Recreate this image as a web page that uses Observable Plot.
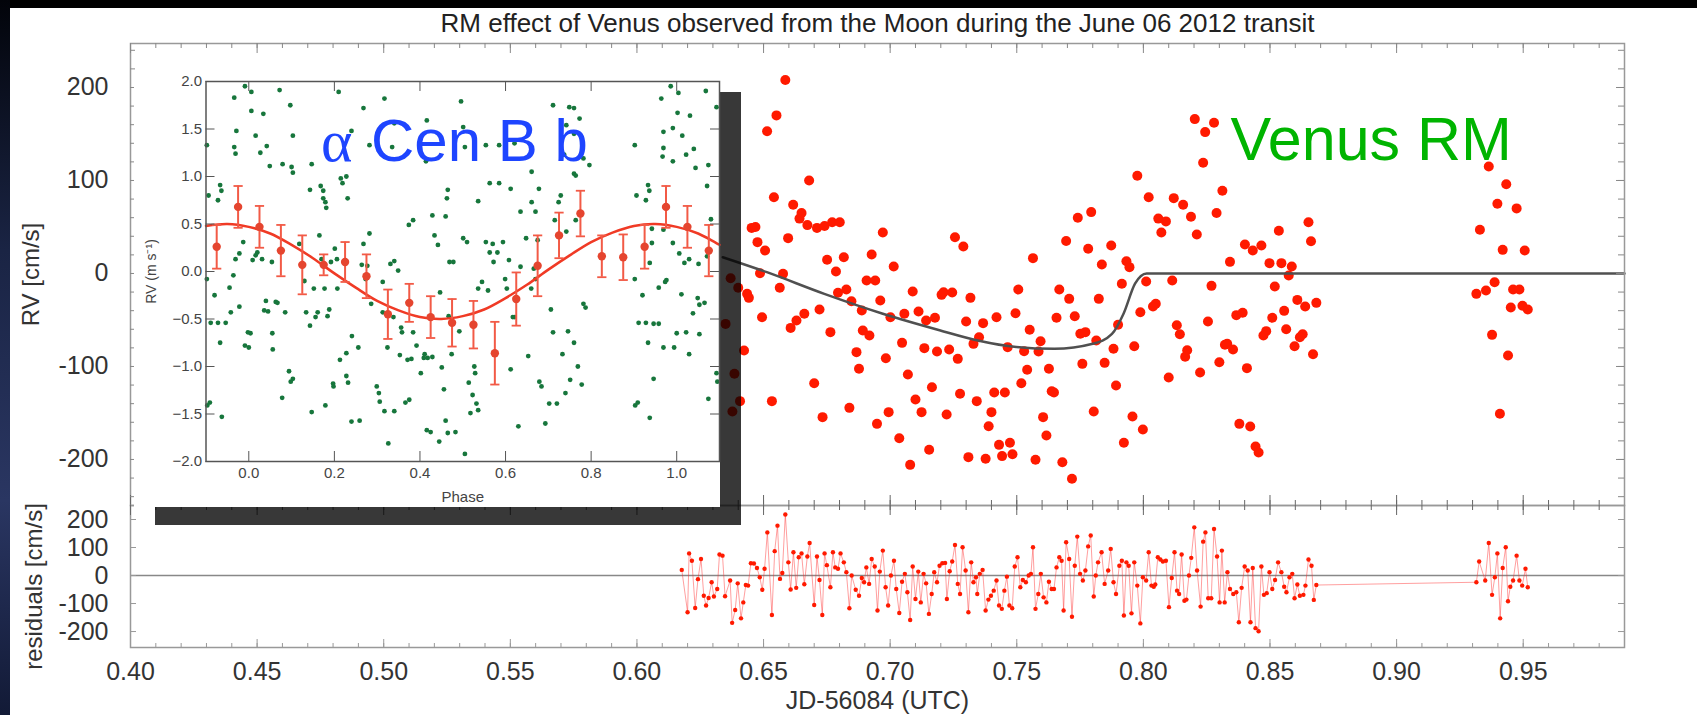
<!DOCTYPE html>
<html><head><meta charset="utf-8">
<script src="https://cdn.jsdelivr.net/npm/d3@7"></script>
<script src="https://cdn.jsdelivr.net/npm/@observablehq/plot@0.6"></script>
<style>
html,body{margin:0;padding:0;background:#000;width:1697px;height:715px;overflow:hidden;}
#page{position:relative;width:1697px;height:715px;}
#strip{position:absolute;left:0;top:0;width:10px;height:715px;background:linear-gradient(#02040a,#1a2444 35%,#2a3662 70%,#121a36);}
#white{position:absolute;left:10px;top:8px;width:1687px;height:707px;background:#fff;}
.abs{position:absolute;}
#shadow{position:absolute;left:155px;top:92px;width:586px;height:433px;background:rgba(0,0,0,0.78);}
svg{overflow:visible;}
</style></head>
<body><div id="page"><div id="strip"></div><div id="white"></div>
<div id="top" class="abs" style="left:0;top:0"></div>
<div id="bottom" class="abs" style="left:0;top:505px"></div>
<div id="shadow"></div>
<div id="inset" class="abs" style="left:134px;top:74px"></div>
</div>
<script>
// ---------------- DATA ----------------
const titleText = "RM effect of Venus observed from the Moon during the June 06 2012 transit";
const xTickLabels = [0.40,0.45,0.50,0.55,0.60,0.65,0.70,0.75,0.80,0.85,0.90,0.95];
const rvTickLabels = [-200,-100,0,100,200];
const resTickLabels = [-200,-100,0,100,200];
const insetXTickLabels = [0.0,0.2,0.4,0.6,0.8,1.0];
const insetYTickLabels = [-2.0,-1.5,-1.0,-0.5,0.0,0.5,1.0,1.5,2.0];

// RV measurements [JD-56084, cm/s]
const rvPoints = [
[0.6453,49],[0.6468,50],[0.6514,153],[0.6541,82],[0.6551,170],[0.6586,208],[0.6597,38],[0.6617,74],[0.6642,59],[0.6650,65],[0.6673,52],[0.6680,100],[0.6711,49],[0.6741,51],[0.6771,55],[0.6801,55],[0.6971,44],[0.7256,39],[0.7695,35],[0.7741,60],[0.7794,66],[0.7976,105],[0.8021,82],[0.8059,59],[0.8089,56],[0.8071,44],[0.8120,81],[0.8157,74],[0.8188,61],[0.8211,42],[0.8203,166],[0.8244,152],[0.8279,162],[0.8236,119],[0.8312,89],[0.8289,65],
[0.8535,46],[0.8652,55],[0.9364,115],[0.9433,96],[0.9398,75],[0.9474,70],[0.9329,47],
[0.6476,33.7],[0.6506,24.7],[0.7289,29.0],[0.7782,26.5],[0.7873,30.1],
[0.6751,14.7],[0.6786,2.1],[0.6817,17.5],[0.6927,20.4],[0.7014,7.5],[0.7564,16.5],[0.7836,9.6],[0.7933,13.2],[0.7945,6.8],
[0.6486,0.3],[0.6577,-0.4],[0.6907,-7.6],[0.6941,-7.6],[0.8011,-8.6],
[0.6564,-15.4],[0.6794,-20.8],[0.6827,-17.2],[0.7089,-19.4],[0.7203,-23],[0.7211,-20.1],[0.7245,-20.5],[0.7317,-26.2],[0.7506,-17.2],[0.7668,-17.2],[0.7707,-27.3],[0.7824,-27.3],[0.7915,-11.1],
[0.6435,-21.9],[0.6442,-26.2],[0.6961,-29.1],[0.6847,-29.8],
[0.6494,-47],[0.6721,-38.7],[0.6888,-39.8],[0.7001,-47],[0.7056,-43.4],[0.7112,-40.9],[0.7142,-50.6],[0.7177,-47.7],[0.7300,-51.6],[0.7367,-53.4],[0.7420,-47],[0.7495,-42.7],[0.7657,-47.7],[0.7729,-45.9],[0.7988,-41.6],
[0.6607,-58.5],[0.6630,-50.6],[0.6661,-43.4],[0.6764,-63.1],[0.6892,-61.3],[0.6918,-66.7],[0.7351,-68.5],[0.7329,-75.7],[0.7551,-60.6],[0.7594,-72.8],[0.7751,-64.9],[0.7771,-63.1],[0.7814,-72.1],[0.7900,-55.2],
[0.6423,-82.8],[0.6867,-84.6],[0.7047,-74.6],[0.7135,-80.3],[0.7185,-83.9],[0.7233,-81.8],[0.7267,-91.8],[0.7464,-79.2],[0.7529,-83.6],[0.7586,-83.9],[0.7759,-97.2],[0.7847,-96.1],[0.7882,-81.0],[0.7964,-78.2],
[0.6700,-118],[0.6877,-102.5],[0.6983,-91.1],[0.7070,-108.6],[0.7165,-122.3],[0.7276,-129.4],[0.7342,-137.3],[0.7411,-128],[0.7453,-128],[0.7518,-118],[0.7541,-103.6],[0.7627,-102.5],[0.7638,-126.6],[0.7647,-128],[0.7804,-148.4],[0.7892,-120.5],
[0.6533,-137.3],[0.6839,-144.5],[0.6733,-154.5],[0.6994,-149.1],[0.7100,-135.5],[0.7124,-149.1],[0.7223,-151.6],[0.7400,-149.1],[0.7604,-154.5],[0.7957,-153.8],[0.7998,-167.8],
[0.6948,-161.7],[0.7036,-177.1],[0.7389,-164.2],[0.7430,-184.3],[0.7473,-182.1],[0.7617,-174.2],[0.7923,-182.1],
[0.7154,-189.6],[0.7079,-205.8],[0.7309,-197.5],[0.7377,-199.3],[0.7442,-196.4],[0.7483,-194.3],[0.7574,-200.4],[0.7680,-202.9],[0.7718,-220.8],
[0.6370,-5.1],[0.6400,-15.4],[0.6350,-54.2],[0.6385,-107.9],[0.6407,-137.3],[0.6377,-148.4],
[0.8662,34.7],[0.8401,31.1],[0.8432,24.7],[0.8466,30.1],[0.9419,25.4],[0.9506,24.7],[0.8342,12.5],[0.8498,11.1],[0.8545,11.1],[0.8586,7.5],[0.8574,-2.2],[0.8114,-7.6],[0.8269,-13.3],[0.8519,-14],[0.9315,-21.9],[0.9353,-18.3],[0.9387,-9.4],[0.9460,-17.2],[0.9485,-17.2],[0.8049,-32.6],[0.8038,-35.5],[0.8608,-28.4],[0.8639,-35.5],[0.8683,-31.6],[0.8556,-40.2],[0.8367,-44.8],[0.8392,-42.3],[0.8509,-47.7],[0.9451,-36.6],[0.9497,-34.8],[0.9518,-38.7],[0.8132,-55.6],[0.8144,-65.3],[0.8255,-51.6],[0.8485,-62],[0.8474,-66.7],[0.8564,-59.9],[0.8629,-65.3],[0.8618,-68.5],[0.8322,-76.7],[0.8331,-75.7],[0.8354,-81.8],[0.8173,-82.5],[0.8165,-89.6],[0.8597,-78.2],[0.8670,-86.8],[0.9377,-66],[0.8300,-95.4],[0.8409,-101.8],[0.8100,-111.9],[0.8224,-106.5],[0.9440,-88.2],[0.8379,-161.7],[0.8422,-164.5],[0.8443,-186],[0.8455,-192.5],[0.9408,-150.9]
];

// RM model curve [JD-56084, cm/s]
const modelCurve = [
[0.6339,17.5],[0.6513,1.4],[0.6740,-21.9],[0.6968,-43],[0.7195,-61],[0.7346,-72],[0.7498,-79],[0.7649,-81],[0.7800,-75.6],[0.7876,-65],[0.7922,-43],[0.7967,-11],[0.8013,0],[0.8500,0],[0.9000,0],[0.9900,0]
];

// residuals [JD-56084, cm/s]
const residuals = [
[0.6177,20],[0.6200,-131],[0.6206,79],[0.6217,53],[0.6230,-116],[0.6241,-13],[0.6253,59],[0.6264,-72],[0.6273,-107],[0.6283,-80],[0.6295,-24],[0.6304,-75],[0.6317,-48],[0.6326,75],[0.6338,71],[0.6348,-74],[0.6368,-18],[0.6376,-169],[0.6388,-123],[0.6398,-28],[0.6411,-153],[0.6420,-96],[0.6430,-34],[0.6439,-36],[0.6450,44],[0.6462,43],[0.6474,27],[0.6485,-6],[0.6495,-51],[0.6504,24],[0.6515,154],[0.6533,-141],[0.6544,87],[0.6555,178],[0.6565,-12],[0.6574,9],[0.6586,218],[0.6598,47],[0.6607,-50],[0.6618,83],[0.6629,-44],[0.6639,65],[0.6650,79],[0.6661,-31],[0.6673,68],[0.6682,116],[0.6700,-105],[0.6711,68],[0.6721,-16],[0.6732,-141],[0.6741,79],[0.6750,37],[0.6764,-42],[0.6774,83],[0.6783,29],[0.6794,24],[0.6804,79],[0.6817,47],[0.6827,12],[0.6839,-117],[0.6848,0],[0.6864,-51],[0.6877,-72],[0.6888,-9],[0.6897,-24],[0.6906,29],[0.6917,-30],[0.6927,59],[0.6939,32],[0.6950,-125],[0.6959,14],[0.6971,89],[0.6982,-42],[0.6992,-107],[0.7003,0],[0.7015,53],[0.7024,-48],[0.7036,-134],[0.7047,-22],[0.7058,6],[0.7068,-60],[0.7079,-159],[0.7089,32],[0.7100,-84],[0.7111,14],[0.7121,-96],[0.7132,6],[0.7142,-28],[0.7153,-137],[0.7164,-66],[0.7174,12],[0.7185,-24],[0.7195,35],[0.7206,44],[0.7217,45],[0.7224,-84],[0.7235,15],[0.7245,50],[0.7256,109],[0.7267,-30],[0.7276,-66],[0.7286,101],[0.7298,18],[0.7309,-131],[0.7320,47],[0.7329,-24],[0.7339,-6],[0.7344,-66],[0.7354,6],[0.7365,20],[0.7377,-125],[0.7388,-86],[0.7398,-72],[0.7409,-54],[0.7420,-18],[0.7430,-107],[0.7441,-119],[0.7451,-54],[0.7461,-4],[0.7471,-107],[0.7482,-117],[0.7492,32],[0.7503,65],[0.7514,-42],[0.7524,-16],[0.7536,-24],[0.7547,0],[0.7556,6],[0.7564,101],[0.7574,-119],[0.7585,-66],[0.7595,6],[0.7606,-78],[0.7617,-96],[0.7627,-22],[0.7638,-48],[0.7647,-48],[0.7657,29],[0.7668,65],[0.7677,53],[0.7685,-125],[0.7695,119],[0.7707,59],[0.7718,-147],[0.7729,35],[0.7739,139],[0.7750,6],[0.7761,-18],[0.7771,18],[0.7782,104],[0.7792,143],[0.7804,-75],[0.7812,0],[0.7821,47],[0.7835,83],[0.7847,-30],[0.7861,18],[0.7871,95],[0.7882,-24],[0.7892,-66],[0.7905,35],[0.7915,53],[0.7923,-143],[0.7933,47],[0.7942,35],[0.7953,-135],[0.7964,47],[0.7976,-36],[0.7988,-171],[0.7998,-6],[0.8011,-18],[0.8021,83],[0.8032,-36],[0.8041,-40],[0.8047,-32],[0.8057,65],[0.8067,57],[0.8077,50],[0.8089,53],[0.8101,-113],[0.8112,-9],[0.8123,83],[0.8133,-54],[0.8141,-66],[0.8151,75],[0.8162,-90],[0.8170,-86],[0.8180,0],[0.8189,63],[0.8201,172],[0.8212,18],[0.8226,-111],[0.8236,121],[0.8245,154],[0.8256,-81],[0.8268,-81],[0.8279,166],[0.8291,68],[0.8301,-96],[0.8310,89],[0.8321,-96],[0.8332,12],[0.8342,-48],[0.8355,-66],[0.8367,-60],[0.8377,-167],[0.8388,-44],[0.8400,32],[0.8412,18],[0.8423,-167],[0.8432,27],
[0.8443,-188],[0.8455,-199],[0.8466,32],[0.8476,-69],[0.8487,-63],[0.8498,12],[0.8509,-48],[0.8520,-16],[0.8532,47],[0.8545,12],[0.8556,-40],[0.8565,-60],[0.8577,-6],[0.8588,6],[0.8597,-81],[0.8608,-32],[0.8618,-72],[0.8632,-69],[0.8640,-36],[0.8652,57],[0.8664,35],[0.8673,-87],[0.8683,-34],
[0.9315,-24],[0.9326,50],[0.9350,-18],[0.9364,116],[0.9377,-69],[0.9388,-6],[0.9398,79],[0.9409,-153],[0.9419,27],[0.9431,101],[0.9440,-92],[0.9449,-40],[0.9460,-18],[0.9474,71],[0.9485,-18],[0.9496,-36],[0.9509,24],[0.9518,-42]
];

// alpha Cen B b inset: binned RV [phase, m/s, error]
const phaseBins = [
[-0.075,0.26,0.23],[-0.025,0.68,0.22],[0.025,0.47,0.22],[0.075,0.22,0.27],[0.125,0.07,0.31],[0.175,0.07,0.11],[0.225,0.10,0.21],[0.275,-0.05,0.23],[0.325,-0.45,0.26],[0.375,-0.33,0.20],[0.425,-0.48,0.22],[0.475,-0.54,0.25],[0.525,-0.56,0.25],[0.575,-0.86,0.33],[0.625,-0.29,0.28],[0.675,0.06,0.32],[0.725,0.38,0.24],[0.775,0.61,0.24],[0.825,0.16,0.22],[0.875,0.15,0.24],[0.925,0.26,0.23],[0.975,0.68,0.22],[1.025,0.47,0.22],[1.075,0.22,0.27]
];
// fitted orbit curve [phase, m/s]
const sineCurve = [
[-0.10,0.48],[-0.05,0.50],[0.00,0.47],[0.05,0.40],[0.10,0.28],[0.15,0.14],[0.20,-0.02],[0.25,-0.17],[0.30,-0.31],[0.35,-0.41],[0.40,-0.48],[0.45,-0.50],[0.50,-0.47],[0.55,-0.40],[0.60,-0.28],[0.65,-0.14],[0.70,0.02],[0.75,0.17],[0.80,0.31],[0.85,0.41],[0.90,0.48],[0.95,0.50],[1.00,0.47],[1.05,0.40],[1.10,0.28]
];
// individual measurements [phase, m/s]
const greenPoints = [
[-0.098,-0.08],[-0.097,-1.41],[-0.091,-1.38],[-0.089,-0.54],[-0.080,-0.25],[-0.072,-0.54],[-0.067,-0.75],[-0.063,-1.53],[-0.054,-0.54],[-0.045,-0.17],[-0.042,-0.43],[-0.036,-0.04],[-0.031,0.13],[-0.022,0.19],[-0.022,-0.37],[-0.013,0.31],[-0.009,-0.78],[-0.002,-0.64],[0.000,-0.80],[0.004,-0.65],[0.009,0.12],[0.016,0.17],[0.020,0.20],[0.031,0.13],[0.036,-0.41],[0.040,-0.31],[0.045,-0.42],[0.054,0.10],[0.055,-0.65],[0.056,-0.82],[0.063,-0.32],[0.067,-0.33],[0.078,-1.33],[0.085,-0.43],[0.094,-1.05],[0.098,-1.16],[0.103,-1.13],[0.118,0.29],[0.130,-0.10],[0.134,-0.43],[0.143,-0.57],[0.147,-1.48],[0.152,-0.18],[0.156,-0.48],[0.161,-0.43],[0.165,0.38],[0.170,0.13],[0.177,-0.18],[0.179,-1.41],[0.184,-0.47],[0.188,-0.40],[0.192,0.10],[0.197,-1.18],[0.198,-1.21],[0.201,0.24],[0.206,0.13],[0.207,-0.18],[0.213,-0.93],[0.228,-1.10],[0.228,-0.86],[0.232,-1.17],[0.240,-1.58],[0.241,-0.68],[0.256,-0.80],[0.259,-1.57],[0.264,0.07],[0.268,0.29],[0.273,-0.08],[0.277,0.06],[0.282,0.40],[0.286,-0.34],[0.299,-1.21],[0.304,-1.28],[0.306,-1.37],[0.313,-0.11],[0.313,-0.43],[0.317,-1.47],[0.324,-0.80],[0.326,-1.81],[0.331,0.08],[0.338,-0.48],[0.340,0.11],[0.340,-1.47],[0.349,0.01],[0.353,-0.88],[0.356,-0.59],[0.358,-0.64],[0.366,-1.38],[0.371,-0.93],[0.375,-1.35],[0.380,-0.92],[0.384,-0.64],[0.392,-0.78],[0.402,-1.07],[0.409,-0.91],[0.411,-0.87],[0.416,-1.67],[0.418,-0.91],[0.425,-1.69],[0.429,-0.90],[0.434,0.38],[0.442,0.28],[0.445,-1.79],[0.447,-0.22],[0.451,-1.01],[0.456,-1.24],[0.460,-1.57],[0.465,-1.70],[0.467,-0.47],[0.469,0.10],[0.474,-0.87],[0.478,0.10],[0.483,-1.69],[0.492,-0.63],[0.501,0.35],[0.505,-1.92],[0.510,0.31],[0.514,-1.17],[0.518,-1.49],[0.523,-1.30],[0.527,-1.00],[0.529,-1.07],[0.532,-1.39],[0.536,-1.46],[0.536,-0.18],[0.545,-0.11],[0.554,0.31],[0.559,-0.20],[0.563,0.20],[0.570,0.29],[0.572,0.10],[0.581,0.20],[0.594,0.31],[0.599,-0.08],[0.603,-0.18],[0.608,0.12],[0.612,-1.03],[0.617,-0.48],[0.621,-0.48],[0.630,-1.63],[0.635,0.05],[0.648,0.35],[0.653,-0.89],[0.660,-0.18],[0.666,0.03],[0.670,-0.08],[0.675,0.33],[0.679,-1.16],[0.684,-1.21],[0.693,-1.60],[0.702,-1.39],[0.706,-0.40],[0.711,-0.64],[0.720,-1.39],[0.733,-0.87],[0.740,-1.28],[0.742,0.42],[0.746,-0.63],[0.751,-1.14],[0.760,-0.75],[0.769,-1.00],[0.778,-1.19],[0.782,-0.34],[0.787,-0.38],
[-0.098,1.33],[-0.094,0.80],[-0.067,0.91],[-0.064,0.85],[-0.072,0.75],[-0.034,1.83],[-0.034,1.31],[-0.031,1.24],[-0.029,1.48],[-0.009,1.95],[0.006,1.89],[0.006,1.69],[0.016,1.43],[0.027,1.25],[0.034,1.66],[0.042,1.32],[0.049,1.11],[0.072,1.91],[0.079,1.13],[0.097,1.75],[0.100,1.10],[0.103,1.43],[0.103,1.04],[0.143,0.86],[0.147,1.13],[0.168,0.90],[0.174,0.85],[0.174,0.77],[0.179,0.73],[0.181,0.67],[0.210,1.89],[0.215,0.98],[0.219,0.93],[0.228,1.00],[0.231,0.77],[0.240,1.48],[0.268,1.72],[0.282,1.33],[0.317,1.82],[0.340,1.56],[0.335,1.31],[0.374,0.49],[0.384,0.54],[0.414,1.16],[0.416,1.59],[0.429,0.59],[0.460,0.58],[0.463,0.77],[0.465,0.86],[0.496,1.79],[0.501,1.52],[0.505,1.31],[0.536,0.74],[0.554,1.33],[0.563,0.93],[0.585,1.33],[0.585,0.93],[0.612,0.87],[0.621,1.35],[0.635,0.63],[0.661,0.73],[0.661,1.05],[0.670,0.63],[0.678,0.87],[0.711,1.75],[0.715,0.54],[0.724,0.73],[0.729,0.80],[0.737,1.23],[0.742,1.54],[0.749,1.73],[0.760,1.72],[0.760,1.45],[0.760,1.03],[0.764,1.01],[0.764,0.54],[0.773,1.61],[0.782,1.19],[0.796,1.12],
[0.964,1.82],[0.986,1.95],[1.004,1.88],[1.068,1.90],[1.002,1.67],[1.031,1.64],[0.969,1.47],[0.991,1.51],[1.013,1.43],[1.093,1.73],[0.969,1.30],[0.967,1.21],[0.991,1.16],[1.022,1.23],[1.040,1.29],[1.044,1.09],[1.074,1.12],[1.071,0.90],[1.080,0.55],[0.942,0.45],[0.969,0.44],
[0.942,0.30],[0.991,0.30],[1.006,0.19],[1.018,0.09],[1.029,0.13],[1.051,0.08],[1.071,0.16],[0.937,0.09],[0.976,-0.09],[0.973,-0.11],[0.958,-0.17],[1.011,-0.24],[1.049,-0.28],[1.053,-0.35],[1.065,-0.33],[1.038,-0.44],[0.958,-0.55],[0.946,-0.55],[1.000,-0.65],[1.022,-0.64],[1.053,-0.66],[0.969,-0.80],[0.994,-0.80],[1.029,-0.87],[0.946,-1.13],[1.093,-1.07],[1.095,-1.16],[1.074,-1.34],[0.937,-1.54]
];

// ---------------- DRAWING ----------------
const FONT = "'Liberation Sans', Arial, Helvetica, sans-serif";
const W = 1697, L = 130, R = 1624;
const FW = R - L;
const xDomain = [0.40, 0.99];
const xMinor = d3.range(41, 99).map(i => i / 100);
const rvMinor = d3.range(-240, 241, 20);
const X = d => d[0], Y = d => d[1];
// phase folding: measurements just below phase 0 also appear one cycle later
const greenFolded = greenPoints.concat(greenPoints.filter(d => d[0] < -0.063).map(d => [d[0] + 1, d[1]]));

// top panel
const topH = 505, topMT = 43, topFH = topH - topMT;
const topPlot = Plot.plot({
  width: W, height: topH, marginLeft: L, marginRight: W - R, marginTop: topMT, marginBottom: 0,
  x: {domain: xDomain, axis: null},
  y: {domain: [-249.5, 247.3]},
  style: {background: "transparent", overflow: "visible", fontFamily: FONT, color: "#333"},
  marks: [
    Plot.dot(rvPoints, {x: X, y: Y, r: 5, fill: "#ff1a00"}),
    Plot.line(modelCurve, {x: X, y: Y, stroke: "#505050", strokeWidth: 2.5, curve: "monotone-x"}),
    Plot.frame({stroke: "#999", strokeWidth: 1.5}),
    Plot.tickX(xMinor, {x: d => d, insetBottom: topFH - 5, stroke: "#888"}),
    Plot.tickX(xTickLabels, {x: d => d, insetBottom: topFH - 10, stroke: "#888"}),
    Plot.tickX(xMinor, {x: d => d, insetTop: topFH - 5, stroke: "#666"}),
    Plot.tickX(xTickLabels, {x: d => d, insetTop: topFH - 10, stroke: "#666"}),
    Plot.tickY(rvMinor, {y: d => d, insetRight: FW - 5, stroke: "#888"}),
    Plot.tickY(rvMinor, {y: d => d, insetLeft: FW - 6, stroke: "#888"}),
    Plot.tickY(rvTickLabels, {y: d => d, insetLeft: FW - 8, stroke: "#888"}),
    Plot.axisY(rvTickLabels, {anchor: "left", tickSize: 0, tickPadding: 22, fontSize: 25, tickFormat: d => String(d)}),
    Plot.text(["RV [cm/s]"], {frameAnchor: "left", rotate: -90, dx: -99, fontSize: 24, textAnchor: "middle", lineAnchor: "middle"}),
    Plot.text([titleText], {frameAnchor: "top", dy: -20, fontSize: 26, fill: "#222", textAnchor: "middle", lineAnchor: "middle"}),
    Plot.text(["Venus RM"], {frameAnchor: "top-left", dx: 1100, dy: 97, fontSize: 61, fill: "#00b400", textAnchor: "start", lineAnchor: "middle"})
  ]
});
document.getElementById("top").appendChild(topPlot);

// residual panel
const botH = 210, botFH = 142;
const botPlot = Plot.plot({
  width: W, height: botH, marginLeft: L, marginRight: W - R, marginTop: 0, marginBottom: botH - botFH,
  x: {domain: xDomain},
  y: {domain: [-257, 250]},
  style: {background: "transparent", overflow: "visible", fontFamily: FONT, color: "#333"},
  marks: [
    Plot.ruleY([0], {stroke: "#888", strokeWidth: 1.5}),
    Plot.line(d3.sort(residuals, X), {x: X, y: Y, stroke: "#ff2a2a", strokeOpacity: 0.45, strokeWidth: 1}),
    Plot.dot(residuals, {x: X, y: Y, r: 2.2, fill: "#ff1a00"}),
    Plot.frame({stroke: "#999", strokeWidth: 1.5}),
    Plot.tickX(xMinor, {x: d => d, insetBottom: botFH - 5, stroke: "#666"}),
    Plot.tickX(xTickLabels, {x: d => d, insetBottom: botFH - 10, stroke: "#666"}),
    Plot.tickX(xMinor, {x: d => d, insetTop: botFH - 4, stroke: "#999"}),
    Plot.tickX(xTickLabels, {x: d => d, insetTop: botFH - 8, stroke: "#999"}),
    Plot.tickY(resTickLabels, {y: d => d, insetRight: FW - 6, stroke: "#999"}),
    Plot.tickY(resTickLabels, {y: d => d, insetLeft: FW - 6, stroke: "#999"}),
    Plot.axisY(resTickLabels, {anchor: "left", tickSize: 0, tickPadding: 22, fontSize: 25, tickFormat: d => String(d)}),
    Plot.axisX(xTickLabels, {anchor: "bottom", tickSize: 0, tickPadding: 15, fontSize: 25, tickFormat: d3.format(".2f")}),
    Plot.text(["JD-56084 (UTC)"], {frameAnchor: "bottom", dy: 53, fontSize: 25, textAnchor: "middle", lineAnchor: "middle"}),
    Plot.text(["residuals [cm/s]"], {frameAnchor: "left", rotate: -90, dx: -96, dy: 10, fontSize: 24, textAnchor: "middle", lineAnchor: "middle"})
  ]
});
document.getElementById("bottom").appendChild(botPlot);

// inset
const inW = 586, inH = 433, inML = 71.5, inMR = 1, inMT = 7, inMB = 46;
const inFW = inW - inML - inMR, inFH = inH - inMT - inMB;
const capSymbol = {draw(ctx, size) { const w = Math.sqrt(size); ctx.moveTo(-w, 0); ctx.lineTo(w, 0); }};
const barColor = "#f25a46";
const insetPlot = Plot.plot({
  width: inW, height: inH, marginLeft: inML, marginRight: inMR, marginTop: inMT, marginBottom: inMB,
  x: {domain: [-0.1, 1.1]},
  y: {domain: [-2, 2]},
  style: {background: "#fff", overflow: "visible", fontFamily: FONT, color: "#444"},
  marks: [
    Plot.dot(greenFolded, {x: X, y: Y, r: 2.4, fill: "#17763c"}),
    Plot.line(sineCurve, {x: X, y: Y, stroke: "#f03a25", strokeWidth: 2.5, curve: "catmull-rom"}),
    Plot.ruleX(phaseBins, {x: X, y1: d => d[1] - d[2], y2: d => d[1] + d[2], stroke: barColor, strokeWidth: 2}),
    Plot.dot(phaseBins, {x: X, y: d => d[1] + d[2], symbol: capSymbol, r: 2.6, stroke: barColor, strokeWidth: 1.8, fill: "none"}),
    Plot.dot(phaseBins, {x: X, y: d => d[1] - d[2], symbol: capSymbol, r: 2.6, stroke: barColor, strokeWidth: 1.8, fill: "none"}),
    Plot.dot(phaseBins, {x: X, y: Y, r: 4.2, fill: "#e5452f"}),
    Plot.frame({stroke: "#555", strokeWidth: 1.5}),
    Plot.tickX(insetXTickLabels, {x: d => d, insetBottom: inFH - 10, stroke: "#555"}),
    Plot.tickX(insetXTickLabels, {x: d => d, insetTop: inFH - 10, stroke: "#555"}),
    Plot.tickY(insetYTickLabels, {y: d => d, insetRight: inFW - 9, stroke: "#555"}),
    Plot.tickY(insetYTickLabels, {y: d => d, insetLeft: inFW - 9, stroke: "#555"}),
    Plot.axisX(insetXTickLabels, {anchor: "bottom", tickSize: 0, tickPadding: 6, fontSize: 15, tickFormat: d3.format(".1f")}),
    Plot.axisY(insetYTickLabels, {anchor: "left", tickSize: 0, tickPadding: 4, fontSize: 15, tickFormat: d3.format(".1f")}),
    Plot.text(["Phase"], {frameAnchor: "bottom", dy: 36, fontSize: 15, textAnchor: "middle", lineAnchor: "middle"}),
    Plot.text(["RV (m s\u207B\u00B9)"], {frameAnchor: "left", rotate: -90, dx: -54, fontSize: 14, textAnchor: "middle", lineAnchor: "middle"}),
    Plot.text(["\u03B1"], {frameAnchor: "top-left", dx: 115, dy: 60, fontSize: 60, fill: "#1e45ff", textAnchor: "start", lineAnchor: "middle", fontFamily: "'Liberation Serif', 'DejaVu Serif', serif"}),
    Plot.text(["Cen B b"], {frameAnchor: "top-left", dx: 165, dy: 60, fontSize: 60, fill: "#1e45ff", textAnchor: "start", lineAnchor: "middle"})
  ]
});
document.getElementById("inset").appendChild(insetPlot);
</script>
</body></html>
